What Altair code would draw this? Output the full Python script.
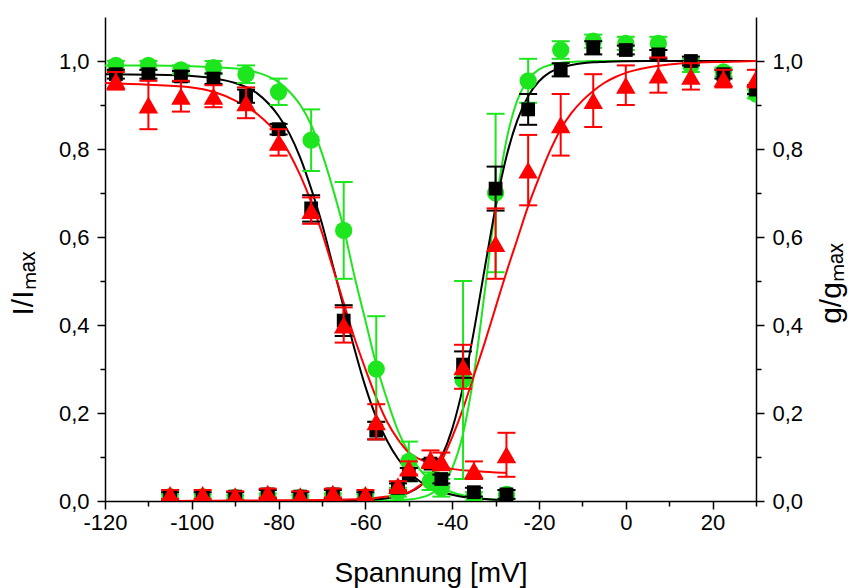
import altair as alt
import pandas as pd

# ---------------- data ----------------
# Inactivation (steady-state) measurements
V_INACT = [-117.5, -110, -102.5, -95, -87.5, -80, -72.5, -65, -57.5, -50, -42.5, -35, -27.5]
BLACK_INACT = [0.97, 0.97, 0.965, 0.96, 0.92, 0.845, 0.665, 0.41, 0.16, 0.06, 0.05, 0.02, 0.015]
BLACK_INACT_ERR = [0.01, 0.01, 0.012, 0.012, 0.015, 0.012, 0.03, 0.035, 0.02, 0.015, 0.01, 0.01, 0.01]
RED_INACT = [0.955, 0.90, 0.92, 0.92, 0.905, 0.815, 0.66, 0.40, 0.18, 0.075, 0.09, 0.07, 0.105]
RED_INACT_ERR = [0.02, 0.055, 0.035, 0.025, 0.035, 0.03, 0.03, 0.04, 0.04, 0.015, 0.02, 0.02, 0.05]
GREEN_INACT = [0.99, 0.99, 0.98, 0.985, 0.97, 0.93, 0.82, 0.615, 0.30, 0.09, 0.03, 0.01, 0.015]
GREEN_INACT_ERR = [0.01, 0.01, 0.01, 0.015, 0.02, 0.03, 0.07, 0.11, 0.12, 0.045, 0.02, 0.01, 0.01]

# Activation (conductance) measurements
V_ACT = [-105, -97.5, -90, -82.5, -75, -67.5, -60, -52.5, -45, -37.5, -30, -22.5, -15, -7.5, 0, 7.5, 15, 22.5, 30]
BLACK_ACT = [0.01, 0.01, 0.01, 0.015, 0.01, 0.015, 0.01, 0.03, 0.085, 0.31, 0.71, 0.89, 0.98, 1.03, 1.025, 1.015, 1.0, 0.97, 0.935]
BLACK_ACT_ERR = [0.01, 0.01, 0.01, 0.01, 0.01, 0.01, 0.01, 0.01, 0.01, 0.03, 0.05, 0.035, 0.015, 0.015, 0.01, 0.01, 0.01, 0.01, 0.01]
RED_ACT = [0.015, 0.015, 0.012, 0.018, 0.012, 0.018, 0.015, 0.035, 0.095, 0.305, 0.585, 0.752, 0.855, 0.91, 0.945, 0.968, 0.965, 0.96, 0.96]
RED_ACT_ERR = [0.01, 0.01, 0.01, 0.01, 0.01, 0.01, 0.01, 0.01, 0.02, 0.05, 0.08, 0.08, 0.07, 0.06, 0.045, 0.04, 0.03, 0.02, 0.02]
GREEN_ACT = [0.01, 0.01, 0.008, 0.012, 0.008, 0.012, 0.01, 0.02, 0.045, 0.275, 0.70, 0.955, 1.025, 1.045, 1.04, 1.04, 0.99, 0.975, 0.925]
GREEN_ACT_ERR = [0.005, 0.005, 0.005, 0.005, 0.005, 0.005, 0.005, 0.01, 0.02, 0.225, 0.18, 0.05, 0.02, 0.015, 0.015, 0.015, 0.015, 0.01, 0.01]

# Fitted curves
V_CURVE_INACT = [-120, -110, -100, -95, -90, -85, -80, -77.5, -75, -72.5, -70, -67.5, -65, -62.5,
                 -60, -57.5, -55, -52.5, -50, -47.5, -45, -42.5, -40, -35, -30, -27.5]
BLACK_INACT_FIT = [0.97, 0.969, 0.966, 0.961, 0.95, 0.927, 0.875, 0.835, 0.78, 0.71, 0.63, 0.535, 0.44, 0.345,
                   0.26, 0.19, 0.137, 0.096, 0.066, 0.045, 0.031, 0.021, 0.014, 0.006, 0.003, 0.002]
RED_INACT_FIT = [0.95, 0.946, 0.94, 0.93, 0.91, 0.88, 0.83, 0.79, 0.74, 0.68, 0.61, 0.53, 0.45, 0.37,
                 0.30, 0.235, 0.18, 0.14, 0.11, 0.095, 0.085, 0.078, 0.073, 0.068, 0.065, 0.064]
GREEN_INACT_FIT = [0.99, 0.99, 0.988, 0.986, 0.983, 0.974, 0.952, 0.93, 0.90, 0.855, 0.79, 0.71, 0.62, 0.51,
                   0.41, 0.31, 0.23, 0.16, 0.11, 0.072, 0.047, 0.03, 0.02, 0.008, 0.003, 0.002]

V_CURVE_ACT = [-107, -100, -90, -80, -70, -60, -55, -50, -47.5, -45, -42.5, -40, -37.5, -35, -32.5, -30,
               -27.5, -25, -22.5, -20, -17.5, -15, -12.5, -10, -7.5, -5, -2.5, 0, 5, 10, 15, 22.5, 30]
BLACK_ACT_FIT = [0.0, 0.0, 0.0, 0.0, 0.0002, 0.002, 0.006, 0.019, 0.033, 0.058, 0.099, 0.164, 0.26, 0.386,
                 0.529, 0.668, 0.783, 0.865, 0.92, 0.954, 0.974, 0.985, 0.991, 0.995, 0.997, 0.998, 0.999,
                 0.9995, 1.0, 1.0, 1.0, 1.0, 1.0]
RED_ACT_FIT = [0.0, 0.0005, 0.001, 0.0015, 0.002, 0.005, 0.01, 0.02, 0.035, 0.055, 0.09, 0.145, 0.21, 0.285,
               0.36, 0.44, 0.52, 0.595, 0.67, 0.735, 0.795, 0.845, 0.882, 0.91, 0.932, 0.95, 0.963, 0.973,
               0.985, 0.992, 0.996, 0.998, 1.0]
GREEN_ACT_FIT = [0.0, 0.0, 0.0, 0.0, 0.0, 0.0002, 0.0012, 0.0032, 0.0071, 0.0159, 0.0348, 0.0747, 0.153,
                 0.288, 0.476, 0.67, 0.82, 0.911, 0.958, 0.981, 0.991, 0.996, 0.998, 0.999, 1.0, 1.0, 1.0,
                 1.0, 1.0, 1.0, 1.0, 1.0, 1.0]

X_TICKS = [-120, -110, -100, -90, -80, -70, -60, -50, -40, -30, -20, -10, 0, 10, 20, 30]
Y_TICKS = [0.0, 0.1, 0.2, 0.3, 0.4, 0.5, 0.6, 0.7, 0.8, 0.9, 1.0]

BLACK = "#000000"
RED = "#ff0000"
GREEN = "#1ee61e"
FONT = "Liberation Sans"

# ---------------- axes ----------------
common_axis = dict(grid=False, domainColor="black", domainWidth=1.5, tickColor="black", tickWidth=1.5,
                   labelColor="black", labelFont=FONT, labelFontSize=22, titleFont=FONT,
                   titleFontWeight="normal", titleColor="black", labelOverlap=False,
                   labelFlush=False)

y_label_expr = "round(datum.value*10) % 2 == 0 ? replace(format(datum.value, '.1f'), '.', ',') : ''"
y_tick_size = {"condition": {"test": "round(datum.value*10) % 2 == 0", "value": 8}, "value": 5}
x_label_expr = "datum.value % 20 == 0 ? (datum.value < 0 ? '-' + abs(datum.value) : '' + datum.value) : ''"
x_tick_size = {"condition": {"test": "datum.value % 20 == 0", "value": 8}, "value": 5}

left_axis = alt.Axis(orient="left", values=Y_TICKS, labelExpr=y_label_expr, tickSize=y_tick_size,
                     title="I/Iₘₐₓ", labelPadding=8, titlePadding=20, titleFontSize=30, titleY=266,
                     **common_axis)
right_axis = alt.Axis(orient="right", values=Y_TICKS, labelExpr=y_label_expr, tickSize=y_tick_size,
                      title="g/gₘₐₓ", titleAngle=270, titleBaseline="top", labelPadding=8,
                      titlePadding=14, titleFontSize=30, titleY=266, **common_axis)
bottom_axis = alt.Axis(orient="bottom", values=X_TICKS, labelExpr=x_label_expr, tickSize=x_tick_size,
                       title="Spannung [mV]", labelPadding=3, titlePadding=26, titleFontSize=28,
                       **common_axis)

# ---------------- chart ----------------
xs = alt.Scale(domain=[-120, 30], nice=False, zero=False)
ys = alt.Scale(domain=[0, 1.1], nice=False, zero=False)


def X(field="V"):
    return alt.X(f"{field}:Q", scale=xs, axis=bottom_axis)


def Y(field="y"):
    return alt.Y(f"{field}:Q", scale=ys, axis=None)


def curve(v, y, color):
    df = pd.DataFrame({"V": v, "y": y})
    return alt.Chart(df).mark_line(color=color, strokeWidth=2, interpolate="monotone", clip=True).encode(
        x=X(), y=Y())


def errbars(v, y, err, color):
    df = pd.DataFrame({"V": v, "lo": [a - e for a, e in zip(y, err)], "hi": [a + e for a, e in zip(y, err)]})
    base = alt.Chart(df)
    rule = base.mark_rule(color=color, strokeWidth=2, clip=True).encode(x=X(), y=Y("lo"), y2="hi:Q")
    lo = base.mark_tick(color=color, orient="horizontal", size=18, thickness=2, opacity=1, clip=True).encode(
        x=X(), y=Y("lo"))
    hi = base.mark_tick(color=color, orient="horizontal", size=18, thickness=2, opacity=1, clip=True).encode(
        x=X(), y=Y("hi"))
    return [rule, lo, hi]


def points(v, y, color, shape, size):
    df = pd.DataFrame({"V": v, "y": y})
    return alt.Chart(df).mark_point(shape=shape, filled=True, opacity=1, size=size, color=color,
                                    strokeWidth=0, clip=True).encode(x=X(), y=Y())


layers = []
layers += [curve(V_CURVE_INACT, GREEN_INACT_FIT, GREEN), curve(V_CURVE_ACT, GREEN_ACT_FIT, GREEN),
           curve(V_CURVE_INACT, BLACK_INACT_FIT, BLACK), curve(V_CURVE_ACT, BLACK_ACT_FIT, BLACK),
           curve(V_CURVE_INACT, RED_INACT_FIT, RED), curve(V_CURVE_ACT, RED_ACT_FIT, RED)]

series = [
    (GREEN, "circle", 300, V_INACT, GREEN_INACT, GREEN_INACT_ERR),
    (GREEN, "circle", 300, V_ACT, GREEN_ACT, GREEN_ACT_ERR),
    (BLACK, "square", 190, V_INACT, BLACK_INACT, BLACK_INACT_ERR),
    (BLACK, "square", 190, V_ACT, BLACK_ACT, BLACK_ACT_ERR),
    (RED, "triangle-up", 380, V_INACT, RED_INACT, RED_INACT_ERR),
    (RED, "triangle-up", 380, V_ACT, RED_ACT, RED_ACT_ERR),
]
for color, shape, size, v, y, e in series:
    layers += errbars(v, y, e, color)
    layers.append(points(v, y, color, shape, size))

dummy = pd.DataFrame({"V": [-120], "y": [0.0]})
axis_left_layer = alt.Chart(dummy).mark_point(opacity=0).encode(
    x=X(), y=alt.Y("y:Q", scale=ys, axis=left_axis))
axis_right_layer = alt.Chart(dummy).mark_point(opacity=0).encode(
    x=X(), y=alt.Y("y:Q", scale=ys, axis=right_axis))

chart = alt.layer(axis_left_layer, axis_right_layer, *layers).resolve_axis(y="independent").properties(
    width=651, height=484, autosize="none",
    padding={"left": 105, "top": 17, "right": 98, "bottom": 87},
    background="white",
).configure_view(stroke=None)

chart.save("out.html", embed_options={"renderer": "svg", "actions": False})
